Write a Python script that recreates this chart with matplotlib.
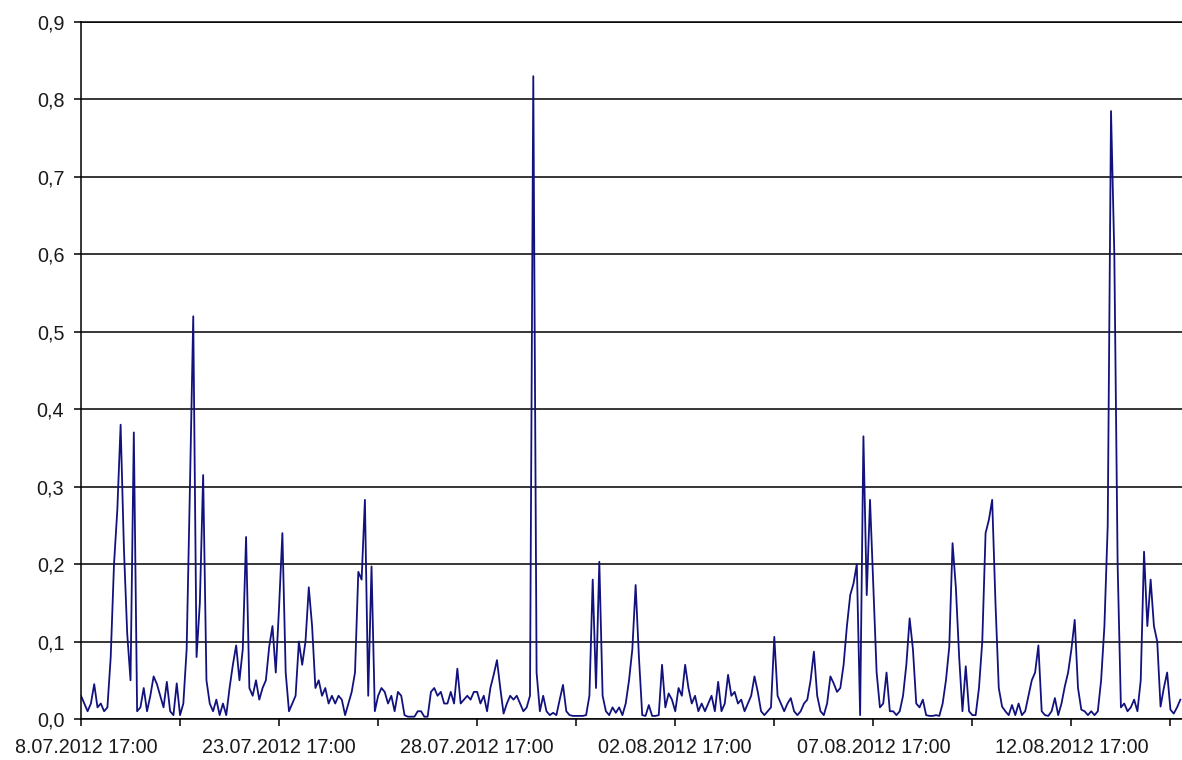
import numpy as np
import pandas as pd
import matplotlib
matplotlib.use("Agg")
from matplotlib import pyplot as plt
from matplotlib.ticker import FuncFormatter
from matplotlib.transforms import Bbox, TransformedBbox

plt.rcParams['font.family'] = ['Liberation Sans', 'DejaVu Sans']

# values every 2 hours, starting 18.07.2012 17:00, in 5-day blocks
b0 = [0.03, 0.02, 0.01, 0.02, 0.045, 0.015, 0.02, 0.01, 0.015, 0.08,
      0.2, 0.27, 0.38, 0.22, 0.11, 0.05, 0.37, 0.01, 0.015, 0.04,
      0.01, 0.03, 0.055, 0.045, 0.03, 0.015, 0.048, 0.01, 0.005, 0.046,
      0.005, 0.02, 0.09, 0.3, 0.52, 0.08, 0.15, 0.315, 0.05, 0.02,
      0.01, 0.025, 0.005, 0.02, 0.005, 0.04, 0.07, 0.095, 0.05, 0.09,
      0.235, 0.04, 0.03, 0.05, 0.025, 0.04, 0.05, 0.093, 0.12, 0.06]
b1 = [0.145, 0.24, 0.06, 0.01, 0.02, 0.03, 0.1, 0.07, 0.1, 0.17,
      0.12, 0.04, 0.05, 0.03, 0.04, 0.02, 0.03, 0.02, 0.03, 0.025,
      0.005, 0.02, 0.035, 0.06, 0.19, 0.18, 0.283, 0.03, 0.197, 0.01,
      0.03, 0.04, 0.035, 0.02, 0.03, 0.01, 0.035, 0.03, 0.005, 0.003,
      0.003, 0.003, 0.01, 0.01, 0.003, 0.003, 0.035, 0.04, 0.03, 0.035,
      0.02, 0.02, 0.035, 0.02, 0.065, 0.02, 0.025, 0.03, 0.025, 0.035]
b2 = [0.035, 0.02, 0.03, 0.01, 0.04, 0.057, 0.076, 0.04, 0.007, 0.02,
      0.03, 0.025, 0.03, 0.02, 0.01, 0.015, 0.03, 0.83, 0.06, 0.01,
      0.03, 0.01, 0.005, 0.008, 0.005, 0.025, 0.044, 0.01, 0.005, 0.004,
      0.004, 0.004, 0.004, 0.005, 0.03, 0.18, 0.04, 0.203, 0.03, 0.01,
      0.005, 0.015, 0.008, 0.015, 0.005, 0.02, 0.05, 0.09, 0.173, 0.08,
      0.005, 0.004, 0.018, 0.004, 0.004, 0.005, 0.07, 0.015, 0.033, 0.025]
b3 = [0.01, 0.04, 0.03, 0.07, 0.04, 0.02, 0.03, 0.01, 0.02, 0.01,
      0.02, 0.03, 0.01, 0.048, 0.01, 0.02, 0.057, 0.03, 0.035, 0.02,
      0.025, 0.01, 0.02, 0.03, 0.055, 0.035, 0.01, 0.005, 0.01, 0.015,
      0.106, 0.03, 0.02, 0.01, 0.02, 0.027, 0.01, 0.005, 0.01, 0.02,
      0.025, 0.05, 0.087, 0.03, 0.01, 0.005, 0.02, 0.055, 0.046, 0.035,
      0.04, 0.07, 0.12, 0.16, 0.175, 0.2, 0.005, 0.365, 0.16, 0.283]
b4 = [0.17, 0.06, 0.015, 0.02, 0.06, 0.01, 0.01, 0.005, 0.01, 0.03,
      0.07, 0.13, 0.09, 0.02, 0.015, 0.025, 0.005, 0.004, 0.004, 0.005,
      0.004, 0.02, 0.05, 0.093, 0.227, 0.17, 0.08, 0.01, 0.068, 0.01,
      0.005, 0.005, 0.04, 0.1, 0.24, 0.257, 0.283, 0.15, 0.04, 0.016,
      0.01, 0.005, 0.018, 0.005, 0.02, 0.005, 0.01, 0.03, 0.05, 0.06,
      0.095, 0.01, 0.005, 0.004, 0.01, 0.027, 0.005, 0.02, 0.042, 0.06]
b5 = [0.09, 0.128, 0.04, 0.012, 0.01, 0.005, 0.01, 0.005, 0.01, 0.05,
      0.12, 0.25, 0.785, 0.6, 0.2, 0.015, 0.02, 0.01, 0.015, 0.025,
      0.01, 0.05, 0.216, 0.12, 0.18, 0.12, 0.1, 0.016, 0.04, 0.06,
      0.012, 0.007, 0.015, 0.025]

values = np.array(b0 + b1 + b2 + b3 + b4 + b5)
times = pd.date_range("2012-07-18 17:00", periods=len(values), freq="2h")

fig = plt.figure(figsize=(11.82, 7.6), dpi=100)
ax = fig.add_axes([81/1182, 41/760, 1101/1182, 697/760])

ax.plot(times, values, color='#12127e', lw=1.3)

ax.set_ylim(0, 0.9)
ax.set_yticks(np.arange(0, 0.91, 0.1))
ax.yaxis.set_major_formatter(FuncFormatter(lambda v, p: ('%.1f' % v).replace('.', ',')))
ax.set_xlim(times[0], times[0] + pd.Timedelta(hours=667))

major = times[::60]
minor = times[30::60]
ax.set_xticks(major)
ax.set_xticklabels([t.strftime('%d.%m.%Y %H:%M') for t in major])
ax.set_xticks(minor, minor=True)

ax.yaxis.grid(True, color='black', lw=1.1)
ax.set_axisbelow(True)
for s in ['left', 'bottom', 'top']:
    ax.spines[s].set_color('black')
    ax.spines[s].set_linewidth(1.1)
ax.spines['right'].set_visible(False)

ax.tick_params(axis='both', which='both', direction='out', length=5, width=1.1, color='black',
               labelsize=14.2, labelcolor='#1a1a1a')
ax.tick_params(axis='y', pad=7)
ax.tick_params(axis='x', pad=9)

# first date label is cut at the left edge, as in the original chart
first = ax.xaxis.get_majorticklabels()[0]
first.set_clip_box(TransformedBbox(Bbox([[16/1182, 0], [0.3, 1]]), fig.transFigure))
first.set_clip_on(True)

plt.savefig("out.png", dpi=100)
